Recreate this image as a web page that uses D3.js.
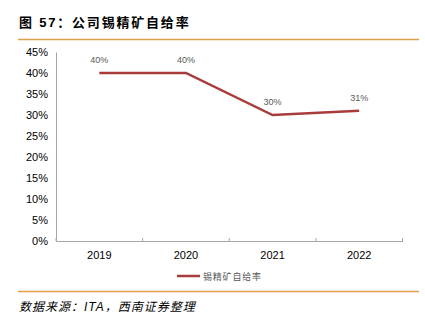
<!DOCTYPE html>
<html><head><meta charset="utf-8">
<script src="https://cdn.jsdelivr.net/npm/d3@7"></script>
<style>body{margin:0;background:#fff}</style>
</head><body>
<script>
const categories = ["2019","2020","2021","2022"];
const values = [40, 40, 30, 31];
const valueLabels = ["40%","40%","30%","31%"];
const yTicks = [0,5,10,15,20,25,30,35,40,45];
const title = "图 57：公司锡精矿自给率";
const seriesName = "锡精矿自给率";
const source = "数据来源：ITA，西南证券整理";

const W = 425, H = 327;
const svg = d3.select("body").append("svg").attr("width", W).attr("height", H);
const font = "Arial, 'Liberation Sans', 'Noto Sans CJK SC', sans-serif";

svg.append("text").attr("x", 19).attr("y", 27).attr("font-family", font)
  .attr("font-size", 13).attr("font-weight", "bold").attr("fill", "#000")
  .attr("letter-spacing", 1.8).text(title);
svg.append("line").attr("x1", 18).attr("x2", 419).attr("y1", 39.5).attr("y2", 39.5)
  .attr("stroke", "#E0A04A").attr("stroke-width", 1.5);
svg.append("line").attr("x1", 18).attr("x2", 419).attr("y1", 291.5).attr("y2", 291.5)
  .attr("stroke", "#E0A04A").attr("stroke-width", 1.5);
svg.append("text").attr("x", 19).attr("y", 311).attr("font-family", font)
  .attr("font-size", 12).attr("font-style", "italic").attr("fill", "#000")
  .attr("letter-spacing", 1).text(source);

const x = d3.scaleBand().domain(categories).range([56, 402.5]);
const y = d3.scaleLinear().domain([0, 45]).range([241, 52]);

const gy = svg.append("g").attr("transform", "translate(56,0)")
  .call(d3.axisLeft(y).tickValues(yTicks).tickFormat(d => d + "%").tickSize(0).tickPadding(8));
gy.select(".domain").attr("stroke", "#a6a6a6");
gy.selectAll("text").attr("font-family", font).attr("font-size", 11).attr("fill", "#000");

const gx = svg.append("g").attr("transform", "translate(0,241)")
  .call(d3.axisBottom(x).tickSize(0).tickPadding(10));
gx.select(".domain").attr("stroke", "#a6a6a6");
gx.selectAll("text").attr("font-family", font).attr("font-size", 11).attr("fill", "#000");
const edges = categories.map(c => x(c)).concat([x.range()[1]]);
gx.selectAll(".edge").data(edges).enter().append("line")
  .attr("x1", d => d).attr("x2", d => d).attr("y1", 0).attr("y2", -3).attr("stroke", "#a6a6a6");

const cx = c => x(c) + x.bandwidth() / 2;
const line = d3.line().x((d, i) => cx(categories[i])).y(d => y(d));
svg.append("path").datum(values).attr("d", line).attr("fill", "none")
  .attr("stroke", "#A83C3C").attr("stroke-width", 2.5);

svg.selectAll(".lbl").data(values).enter().append("text")
  .attr("x", (d, i) => cx(categories[i])).attr("y", d => y(d) - 10)
  .attr("text-anchor", "middle").attr("font-family", font).attr("font-size", 9)
  .attr("fill", "#595959").text((d, i) => valueLabels[i]);

svg.append("line").attr("x1", 177).attr("x2", 200).attr("y1", 276).attr("y2", 276)
  .attr("stroke", "#A83C3C").attr("stroke-width", 2.5);
svg.append("text").attr("x", 203).attr("y", 279.5).attr("font-family", font)
  .attr("font-size", 9).attr("fill", "#595959").attr("letter-spacing", 0.8).text(seriesName);
</script>
</body></html>
